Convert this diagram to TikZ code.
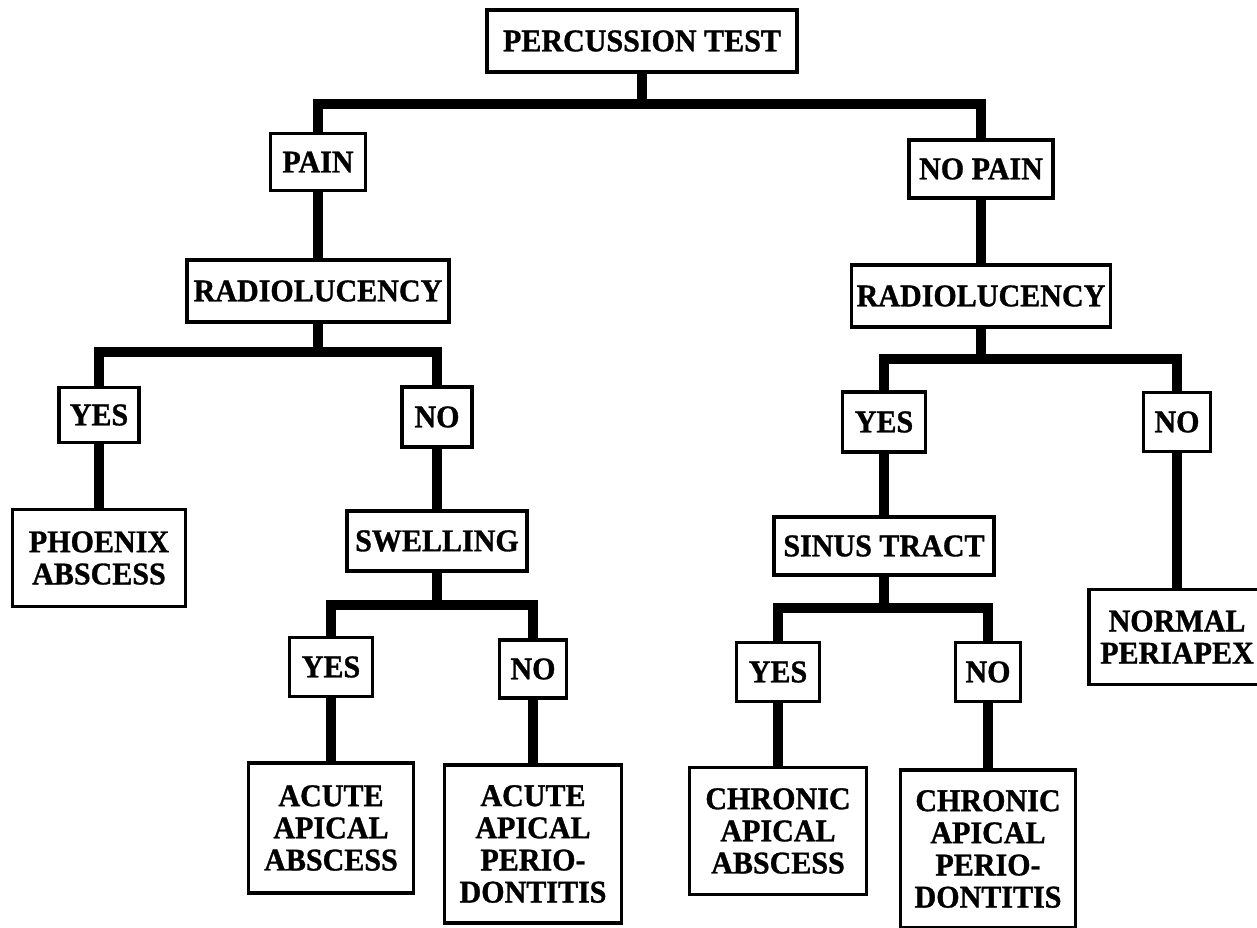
\documentclass[tikz,border=0pt]{standalone}
\usepackage{fontspec}
\setmainfont{Liberation Serif}
\newfontfamily\boxfont{Liberation Serif}[FakeStretch=0.95, FakeBold=1]
\usepackage{tikz}
\usetikzlibrary{positioning}

\tikzset{
  box/.style={draw, line width=0.07cm, fill=white, align=center,
    inner sep=0.1cm, font=\boxfont\bfseries\fontsize{18}{18.3}\selectfont},
  link/.style={line width=0.21cm, line join=miter}
}

\begin{document}
\begin{tikzpicture}[x=0.02cm, y=-0.02cm]
    \useasboundingbox (0,0) rectangle (1257,928);

    % ROOT
    \node[box, minimum width=6.2cm, minimum height=1.24cm] (PERCUSSION) at (642,41) {PERCUSSION TEST};
    \coordinate (J_0) at (642,104);

    % FIRST LAYER
    \node[box, minimum width=1.9cm, minimum height=1.14cm] (PAIN) at (318,162) {PAIN};
    \node[box, minimum width=2.88cm, minimum height=1.16cm] (NO_PAIN) at (981,169) {NO PAIN};

    % SECOND LAYER
    \node[box, minimum width=5.24cm, minimum height=1.24cm] (RADIO_1) at (318,291) {RADIOLUCENCY};
    \node[box, minimum width=5.16cm, minimum height=1.24cm] (RADIO_2) at (981,296) {RADIOLUCENCY};
    \coordinate (J_1) at (318,352);
    \coordinate (J_2) at (981,359);

    % THIRD LAYER
    \node[box, minimum width=1.6cm, minimum height=1.1cm] (YES_1) at (99,415) {YES};
    \node[box, minimum width=1.4cm, minimum height=1.2cm] (NO_1) at (437,417) {NO};
    \node[box, minimum width=1.66cm, minimum height=1.2cm] (YES_3) at (884,422) {YES};
    \node[box, minimum width=1.34cm, minimum height=1.18cm] (NO_3) at (1177,422) {NO};

    % FOURTH LAYER
    \node[box, minimum width=3.46cm, minimum height=1.94cm] (PHOENIX) at (99,558) {PHOENIX\\ABSCESS};
    \node[box, minimum width=3.6cm, minimum height=1.2cm] (SWELLING) at (437,541) {SWELLING};
    \node[box, minimum width=4.4cm, minimum height=1.16cm] (SINUS) at (884,546) {SINUS TRACT};
    \node[box, minimum width=3.52cm, minimum height=1.9cm] (NORMAL) at (1177,637) {NORMAL\\PERIAPEX};
    \coordinate (J_3) at (437,605);
    \coordinate (J_4) at (884,608);

    % FIFTH LAYER
    \node[box, minimum width=1.66cm, minimum height=1.18cm] (YES_2) at (331,667) {YES};
    \node[box, minimum width=1.34cm, minimum height=1.16cm] (NO_2) at (533,669) {NO};
    \node[box, minimum width=1.66cm, minimum height=1.18cm] (YES_4) at (778,672) {YES};
    \node[box, minimum width=1.3cm, minimum height=1.18cm] (NO_4) at (988,672) {NO};

    % LEAVES
    \node[box, minimum width=3.3cm, minimum height=2.6cm] (ACUTE_ABS) at (331,828) {ACUTE\\APICAL\\ABSCESS};
    \node[box, minimum width=3.54cm, minimum height=3.16cm] (ACUTE_PERIO) at (533,844) {ACUTE\\APICAL\\PERIO-\\DONTITIS};
    \node[box, minimum width=3.54cm, minimum height=2.54cm] (CHRONIC_ABS) at (778,831) {CHRONIC\\APICAL\\ABSCESS};
    \node[box, minimum width=3.5cm, minimum height=3.16cm] (CHRONIC_PERIO) at (988,849) {CHRONIC\\APICAL\\PERIO-\\DONTITIS};

    % LINES
    \draw[link] (PERCUSSION.south) -- (J_0);
    \draw[link] (PAIN.north) |- (J_0) -| (NO_PAIN.north);
    \draw[link] (PAIN.south) -- (RADIO_1.north);
    \draw[link] (NO_PAIN.south) -- (RADIO_2.north);

    \draw[link] (RADIO_1.south) -- (J_1);
    \draw[link] (YES_1.north) |- (J_1) -| (NO_1.north);
    \draw[link] (YES_1.south) -- (PHOENIX.north);
    \draw[link] (NO_1.south) -- (SWELLING.north);

    \draw[link] (RADIO_2.south) -- (J_2);
    \draw[link] (YES_3.north) |- (J_2) -| (NO_3.north);
    \draw[link] (YES_3.south) -- (SINUS.north);
    \draw[link] (NO_3.south) -- (NORMAL.north);

    \draw[link] (SWELLING.south) -- (J_3);
    \draw[link] (YES_2.north) |- (J_3) -| (NO_2.north);
    \draw[link] (YES_2.south) -- (ACUTE_ABS.north);
    \draw[link] (NO_2.south) -- (ACUTE_PERIO.north);

    \draw[link] (SINUS.south) -- (J_4);
    \draw[link] (YES_4.north) |- (J_4) -| (NO_4.north);
    \draw[link] (YES_4.south) -- (CHRONIC_ABS.north);
    \draw[link] (NO_4.south) -- (CHRONIC_PERIO.north);
\end{tikzpicture}
\end{document}
